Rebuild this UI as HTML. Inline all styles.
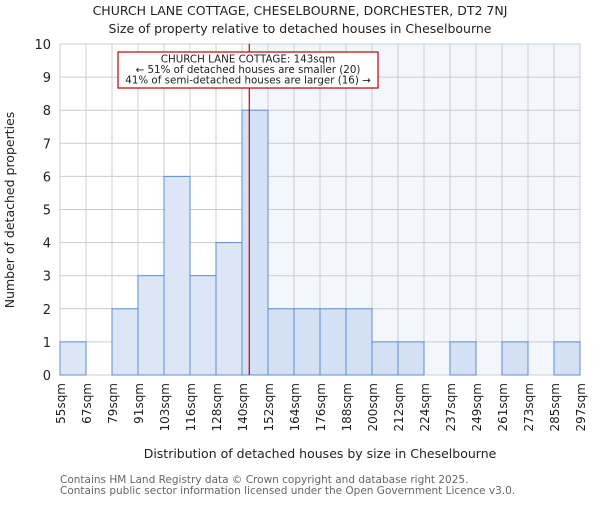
<!DOCTYPE html>
<html><head><meta charset="utf-8"><style>body{margin:0;background:#fff}svg{font-family:"DejaVu Sans","Liberation Sans",sans-serif}</style></head>
<body>
<svg id="chart" width="600" height="500" xmlns="http://www.w3.org/2000/svg">
<text x="300" y="15" text-anchor="middle" font-size="12.5" fill="#222">CHURCH LANE COTTAGE, CHESELBOURNE, DORCHESTER, DT2 7NJ</text>
<text x="300" y="33" text-anchor="middle" font-size="12.5" fill="#222">Size of property relative to detached houses in Cheselbourne</text>
<g id="plot"></g>
<text x="320" y="458" text-anchor="middle" font-size="12.5" fill="#222">Distribution of detached houses by size in Cheselbourne</text>
<text transform="translate(14,210) rotate(-90)" text-anchor="middle" font-size="12.5" fill="#222">Number of detached properties</text>
<text x="60" y="483" font-size="10.5" fill="#666">Contains HM Land Registry data © Crown copyright and database right 2025.</text>
<text x="60" y="494" font-size="10.5" fill="#666">Contains public sector information licensed under the Open Government Licence v3.0.</text>
</svg>
<script>
const binLabels=["55sqm","67sqm","79sqm","91sqm","103sqm","116sqm","128sqm","140sqm","152sqm","164sqm","176sqm","188sqm","200sqm","212sqm","224sqm","237sqm","249sqm","261sqm","273sqm","285sqm","297sqm"];
const counts=[1,0,2,3,6,3,4,8,2,2,2,2,1,1,0,1,0,1,0,1];
const yTicks=[0,1,2,3,4,5,6,7,8,9,10];
const propertyBinPos=7.28;
const annotation=["CHURCH LANE COTTAGE: 143sqm","← 51% of detached houses are smaller (20)","41% of semi-detached houses are larger (16) →"];
const X0=60,X1=580,Y0=375,Y1=44,NS="http://www.w3.org/2000/svg";
const nb=counts.length,bw=(X1-X0)/nb;
const xs=i=>X0+i*bw, ys=v=>Y0-(v/10)*(Y0-Y1);
const g=document.getElementById('plot');
function mk(t,a){const e=document.createElementNS(NS,t);for(const k in a)e.setAttribute(k,a[k]);g.appendChild(e);return e;}
const lx=xs(propertyBinPos);
let sh=mk('rect',{x:lx,y:Y1,width:X1-lx,height:Y0-Y1,fill:'#f3f6fd'});


yTicks.forEach(t=>{const l=mk('line',{x1:X0,x2:X1,y1:ys(t),y2:ys(t),stroke:'#cccccc'});


const tx=mk('text',{x:X0-9,y:ys(t)+5,'text-anchor':'end','font-size':13,fill:'#222'});tx.textContent=t;

});
binLabels.forEach((b,i)=>{const l=mk('line',{x1:xs(i),x2:xs(i),y1:Y1,y2:Y0,stroke:'#cccccc'});


const tx=mk('text',{transform:`translate(${xs(i)+5},${Y0+8}) rotate(-90)`,'text-anchor':'end','font-size':12,fill:'#222'});tx.textContent=b;

});
counts.forEach((c,i)=>{if(!c)return;const r=mk('rect',{x:xs(i),y:ys(c),width:bw,height:Y0-ys(c),fill:i>=7?'#d4e0f3':'#dce6f4',stroke:'#5a8fd6','stroke-width':1});

});
const rl=mk('line',{x1:lx,x2:lx,y1:Y1,y2:Y0,stroke:'#c00000','stroke-width':1.2});


const bx=mk('rect',{x:118,y:52,width:260,height:36,fill:'#fff',stroke:'#c00000','stroke-width':1.2});


annotation.forEach((s,i)=>{const t=mk('text',{x:248,y:62.5+i*10.5,'text-anchor':'middle','font-size':10.3,fill:'#222'});t.textContent=s;

});
</script>
</body></html>
